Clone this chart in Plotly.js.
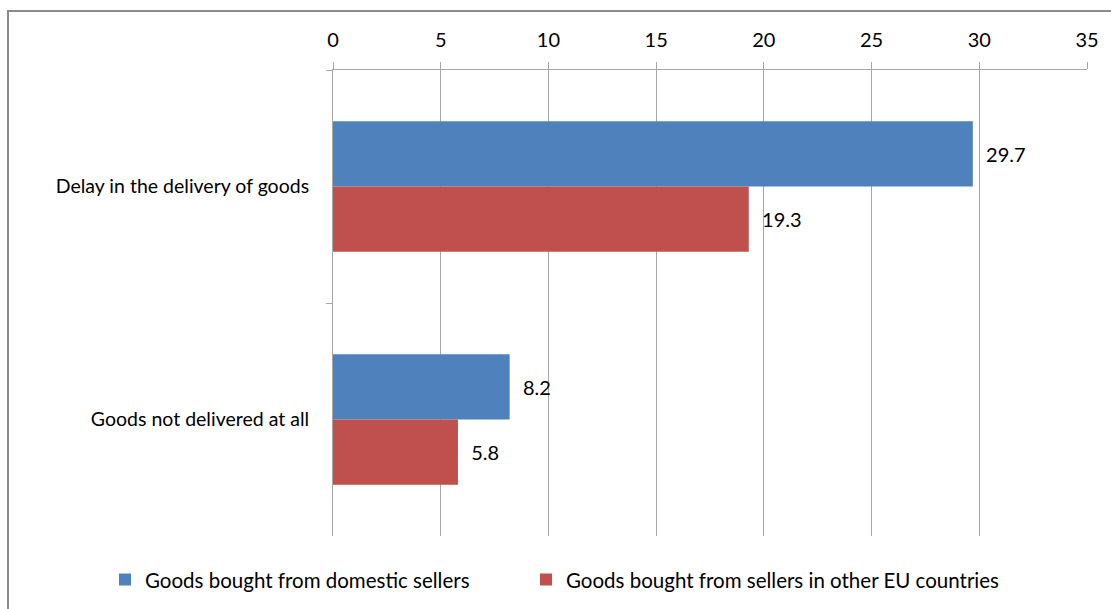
<!DOCTYPE html>
<html>
<head>
<meta charset="utf-8">
<script src="https://cdn.plot.ly/plotly-3.0.1.min.js"></script>
<style>
html,body{margin:0;padding:0;background:#fff;}
#wrap{position:relative;width:1111px;height:609px;overflow:hidden;}
#chart{width:1111px;height:609px;}
#frame{position:absolute;left:7px;top:10px;width:1200px;height:700px;border-top:2px solid #8a8a8a;border-left:2px solid #8a8a8a;pointer-events:none;}
</style>
</head>
<body>
<div id="wrap"><div id="chart"></div><div id="frame"></div></div>
<script>
const categories = ["Delay in the delivery of goods", "Goods not delivered at all"];
const seriesNames = ["Goods bought from domestic sellers", "Goods bought from sellers in other EU countries"];
const domestic = [29.7, 8.2];
const otherEU = [19.3, 5.8];
const colors = ["#4f81bd", "#c0504d"];
const xTicks = [0, 5, 10, 15, 20, 25, 30, 35];

const fontFam = "Lato, 'Open Sans', sans-serif";
function mk(name, vals, color, leg) {
  return {
    type: "bar", orientation: "h", name: name, legend: leg,
    y: categories, x: vals,
    marker: {color: color},
    text: vals.map(v => "\u00a0\u00a0" + v.toFixed(1)),
    textposition: "outside", cliponaxis: false,
    textfont: {family: fontFam, size: 20, color: "#000"},
    hoverinfo: "x+name"
  };
}
const data = [mk(seriesNames[0], domestic, colors[0], "legend"), mk(seriesNames[1], otherEU, colors[1], "legend2")];
const legBase = {orientation: "h", xanchor: "left", xref: "container", y: 0.048, yanchor: "middle", yref: "container",
                 font: {family: fontFam, size: 20.5, color: "#000"}, itemwidth: 30, bgcolor: "rgba(0,0,0,0)"};
const layout = {
  width: 1111, height: 609,
  margin: {l: 333, r: 24, t: 70, b: 73, autoexpand: false},
  paper_bgcolor: "#fff", plot_bgcolor: "#fff",
  font: {family: fontFam, size: 19.5, color: "#000"},
  barmode: "group", bargap: 0.44, bargroupgap: 0,
  showlegend: true,
  legend: Object.assign({}, legBase, {x: 105 / 1111}),
  legend2: Object.assign({}, legBase, {x: 526 / 1111}),
  xaxis: {
    side: "top", range: [0, 35], tickvals: xTicks, ticktext: xTicks.map(String),
    showgrid: true, gridcolor: "#a6a6a6", gridwidth: 1,
    showline: true, linecolor: "#a6a6a6", linewidth: 1,
    ticks: "outside", ticklen: 7, tickcolor: "#a6a6a6",
    ticklabelstandoff: 7,
    zeroline: false, fixedrange: true,
    tickfont: {family: fontFam, size: 20, color: "#000"}
  },
  yaxis: {
    type: "category", categoryorder: "array", categoryarray: categories,
    autorange: "reversed",
    showline: true, linecolor: "#a6a6a6", linewidth: 1,
    ticks: "outside", ticklen: 6, tickcolor: "#a6a6a6", tickson: "boundaries",
    showgrid: false, zeroline: false, fixedrange: true,
    ticklabelstandoff: 19,
    tickfont: {family: fontFam, size: 19.5, color: "#000"}
  }
};
Plotly.newPlot("chart", data, layout, {displayModeBar: false, staticPlot: true});
</script>
</body>
</html>
